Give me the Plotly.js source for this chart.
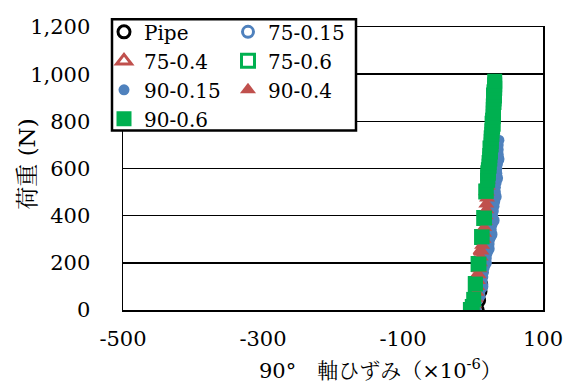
<!DOCTYPE html>
<html>
<head>
<meta charset="utf-8">
<script src="https://cdn.plot.ly/plotly-3.0.1.min.js"></script>
</head>
<body style="margin:0">
<div id="chart" style="width:575px;height:388px"></div>
<script>
// ---- data (strain x10^-6, load N) ----
const pipeX = [6, 8, 10, 11];
const pipeY = [0, 40, 80, 110];

const s75_015X = [2, 8, 12, 17, 21, 25, 28, 31, 33, 35];
const s75_015Y = [0, 60, 100, 200, 260, 320, 380, 480, 560, 640];

const s75_04X = [0, 3, 6, 8, 10, 12, 15, 18, 20];
const s75_04Y = [0, 50, 100, 150, 200, 250, 300, 400, 500];

const s75_06X = [-3, 4, 8, 13, 16, 19, 22, 25, 28, 30];
const s75_06Y = [0, 110, 195, 310, 390, 503, 580, 685, 790, 910];

const s90_015X = [2, 4, 6, 8, 10, 12, 13, 14, 15, 16, 17, 19, 20, 21, 23, 24, 25, 26, 27, 28, 28, 29, 30, 31, 31, 32, 32, 33, 33, 34, 34, 35, 35, 36, 36, 36, 37];
const s90_015Y = [0, 20, 40, 60, 80, 100, 120, 140, 160, 180, 200, 220, 240, 260, 280, 300, 320, 340, 360, 380, 400, 420, 440, 460, 480, 500, 520, 540, 560, 580, 600, 620, 640, 660, 680, 700, 720];

const s90_04X = [0, 2, 3, 5, 6, 7, 8, 9, 10, 11, 12, 13, 15, 16, 16, 17, 18, 19, 19, 20, 20, 21, 21];
const s90_04Y = [0, 25, 50, 75, 100, 125, 150, 175, 200, 225, 250, 275, 300, 325, 350, 375, 400, 425, 450, 475, 500, 525, 550];

const s90_06X = [-3, -1, 1, 3.5, 8.5, 13, 16.5, 19, 21, 21, 22, 22, 23, 23, 24, 24, 25, 25, 26, 26, 26, 27, 27, 28, 28, 28, 29, 29, 29, 29, 30, 30, 30, 30, 31, 31, 31];
const s90_06Y = [0, 15, 45, 110, 195, 310, 390, 503, 550, 565, 580, 595, 610, 625, 640, 655, 670, 685, 700, 715, 730, 745, 760, 775, 790, 805, 820, 835, 850, 865, 880, 895, 910, 925, 940, 955, 970];

const names = ['Pipe', '75-0.15', '75-0.4', '75-0.6', '90-0.15', '90-0.4', '90-0.6'];
const xTicks = [-500, -300, -100, 100];

const BLUE = '#4f81bd', RED = '#c0504d', GREEN = '#00b050';
const SERIF = 'DejaVu Serif';
const CJK = 'DejaVu Serif, Noto Serif CJK JP';

function tr(name, x, y, symbol, color, size, open, legend, rank) {
  return {
    type: 'scatter', mode: 'markers', name: name, x: x, y: y,
    legend: legend, legendrank: rank,
    marker: open
      ? {symbol: symbol + '-open', size: size, color: color, line: {color: color, width: 3}}
      : {symbol: symbol, size: size, color: color, line: {width: 0}},
    hoverinfo: 'skip'
  };
}

const data = [
  tr(names[0], pipeX, pipeY, 'circle', '#000000', 12, true, 'legend', 1),
  tr(names[1], s75_015X, s75_015Y, 'circle', BLUE, 11, true, 'legend2', 1),
  tr(names[2], s75_04X, s75_04Y, 'triangle-up', RED, 13, true, 'legend', 2),
  tr(names[3], s75_06X, s75_06Y, 'square', GREEN, 13, true, 'legend2', 2),
  tr(names[4], s90_015X, s90_015Y, 'circle', BLUE, 11, false, 'legend', 3),
  tr(names[5], s90_04X, s90_04Y, 'triangle-up', RED, 14, false, 'legend2', 3),
  tr(names[6], s90_06X, s90_06Y, 'square', GREEN, 15, false, 'legend', 4)
];

// plot area: x 123..543 px, y 20..310 px
function leg(xpx) {
  return {
    orientation: 'v',
    x: (xpx - 123) / 420, y: (310 - 5) / 290, xanchor: 'left', yanchor: 'top',
    bgcolor: 'rgba(0,0,0,0)', borderwidth: 0,
    font: {family: SERIF, size: 20, color: '#000000'},
    traceorder: 'normal', itemwidth: 30
  };
}

const layout = {
  width: 575, height: 388,
  margin: {l: 123, r: 32, t: 20, b: 78},
  paper_bgcolor: '#ffffff', plot_bgcolor: '#ffffff',
  font: {family: SERIF, size: 21, color: '#000000'},
  showlegend: true,
  legend: leg(104),
  legend2: leg(228),
  xaxis: {
    range: [-500, 100], tickvals: xTicks, ticktext: xTicks.map(String),
    showgrid: false, zeroline: false, showline: true, mirror: true,
    linecolor: '#000000', linewidth: 1.5, ticks: '', ticklabelstandoff: 9,
    tickfont: {family: SERIF, size: 21, color: '#000000'}
  },
  yaxis: {
    range: [0, 1200], dtick: 200, tick0: 0, tickformat: ',d',
    showgrid: true, gridcolor: '#000000', gridwidth: 1.5, zeroline: false,
    showline: true, mirror: true, linecolor: '#000000', linewidth: 1.5,
    ticks: '', ticklabelstandoff: 27,
    tickfont: {family: SERIF, size: 21, color: '#000000'}
  },
  shapes: [
    {type: 'rect', xref: 'paper', yref: 'paper', layer: 'above',
     x0: (112 - 123) / 420, x1: (356 - 123) / 420,
     y0: (310 - 126) / 290, y1: (310 - 12) / 290,
     fillcolor: '#ffffff', line: {color: '#000000', width: 2.5}}
  ],
  annotations: [
    {text: '90°　軸ひずみ（×10<sup>-6</sup>）', xref: 'paper', yref: 'paper',
     x: 0.612, y: -0.21, xanchor: 'center', yanchor: 'middle', showarrow: false,
     font: {family: CJK, size: 21, color: '#000000'}},
    {text: '荷重 (N)', xref: 'paper', yref: 'paper', textangle: -90,
     x: -0.2286, y: 0.517, xanchor: 'center', yanchor: 'middle', showarrow: false,
     font: {family: CJK, size: 23, color: '#000000'}}
  ]
};

Plotly.newPlot('chart', data, layout, {displayModeBar: false, staticPlot: true});
</script>
</body>
</html>
